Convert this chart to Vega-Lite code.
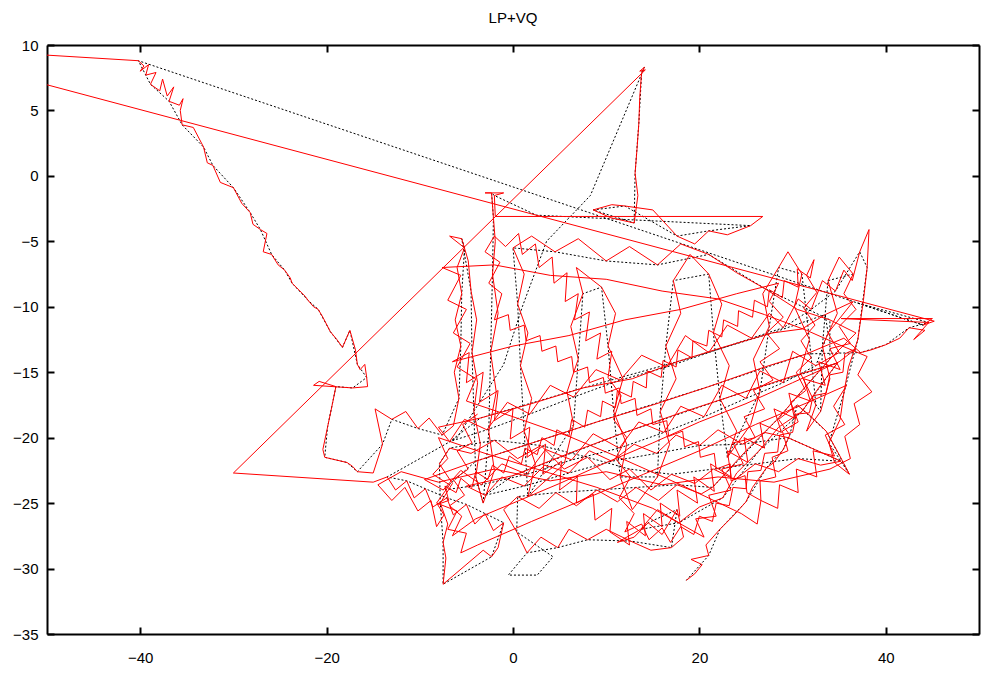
{
"$schema": "https://vega.github.io/schema/vega-lite/v6.json",
"autosize": {"type": "none"},
"width": 932, "height": 589,
"padding": {"left": 47, "top": 45, "right": 5, "bottom": 40},
"background": "white",
"title": {"text": "LP+VQ", "font": "Liberation Sans", "fontSize": 15, "fontWeight": "normal", "color": "black", "baseline": "alphabetic", "offset": 0, "anchor": "middle"},
"config": {"view": {"stroke": null}, "axis": {"grid": false, "title": null, "domainColor": "black", "domainWidth": 2, "tickColor": "black", "tickWidth": 2, "tickSize": -7, "labelFont": "Liberation Sans", "labelFontSize": 15, "labelColor": "black"}},
"data": {"values": [
{"x":18.6,"y":-30.9,"s":"b"},{"x":19.5,"y":-30.4,"s":"r"},{"x":20.3,"y":-29.7,"s":"r"},{"x":19.1,"y":-29.3,"s":"r"},{"x":21.0,"y":-29.0,"s":"b"},{"x":20.7,"y":-28.2,"s":"r"},{"x":22.2,"y":-27.0,"s":"b"},{"x":23.6,"y":-26.0,"s":"r"},{"x":25.0,"y":-24.9,"s":"b"},{"x":25.7,"y":-23.8,"s":"r"},
{"x":27.2,"y":-22.3,"s":"b"},{"x":28.0,"y":-21.9,"s":"r"},{"x":29.0,"y":-20.9,"s":"b"},{"x":29.7,"y":-19.8,"s":"b"},{"x":28.5,"y":-18.6,"s":"r"},{"x":30.5,"y":-17.5,"s":"b"},{"x":32.0,"y":-18.4,"s":"r"},{"x":33.6,"y":-19.5,"s":"b"},{"x":35.0,"y":-21.3,"s":"r"},{"x":36.1,"y":-22.8,"s":"b"},
{"x":34.5,"y":-21.9,"s":"r"},{"x":33.9,"y":-20.4,"s":"b"},{"x":35.1,"y":-18.6,"s":"r"},{"x":35.5,"y":-16.6,"s":"b"},{"x":36.0,"y":-14.6,"s":"r"},{"x":37.0,"y":-12.5,"s":"b"},{"x":37.6,"y":-9.5,"s":"r"},{"x":38.0,"y":-7.0,"s":"b"},{"x":38.2,"y":-4.1,"s":"r"},{"x":37.2,"y":-5.8,"s":"b"},
{"x":36.4,"y":-8.0,"s":"r"},{"x":35.5,"y":-7.2,"s":"r"},{"x":34.6,"y":-8.8,"s":"b"},{"x":33.2,"y":-8.0,"s":"r"},{"x":32.0,"y":-10.2,"s":"b"},{"x":30.6,"y":-9.4,"s":"r"},{"x":29.0,"y":-11.6,"s":"b"},{"x":27.5,"y":-10.5,"s":"r"},{"x":25.6,"y":-12.4,"s":"b"},{"x":23.0,"y":-11.4,"s":"r"},
{"x":21.0,"y":-13.5,"s":"b"},{"x":18.5,"y":-12.2,"s":"r"},{"x":16.5,"y":-14.6,"s":"b"},{"x":13.8,"y":-13.7,"s":"r"},{"x":11.5,"y":-15.6,"s":"b"},{"x":8.9,"y":-14.8,"s":"r"},{"x":6.5,"y":-16.9,"s":"b"},{"x":4.0,"y":-16.0,"s":"r"},{"x":1.8,"y":-18.2,"s":"b"},{"x":-0.6,"y":-17.3,"s":"r"},
{"x":-2.8,"y":-19.4,"s":"b"},{"x":-5.2,"y":-18.6,"s":"r"},{"x":-6.8,"y":-20.3,"s":"b"},{"x":-8.0,"y":-19.2,"s":"r"},{"x":-3.5,"y":-18.5,"s":"b"},{"x":2.0,"y":-17.4,"s":"r"},{"x":7.5,"y":-16.2,"s":"b"},{"x":12.8,"y":-15.5,"s":"r"},{"x":17.6,"y":-14.2,"s":"b"},{"x":22.5,"y":-13.1,"s":"r"},
{"x":27.8,"y":-12.0,"s":"b"},{"x":31.0,"y":-11.7,"s":"r"},{"x":33.5,"y":-10.6,"s":"b"},{"x":36.5,"y":-9.6,"s":"r"},{"x":33.8,"y":-12.0,"s":"b"},{"x":35.0,"y":-13.5,"s":"r"},{"x":32.5,"y":-14.5,"s":"b"},{"x":30.0,"y":-13.4,"s":"r"},{"x":29.0,"y":-15.8,"s":"b"},{"x":26.5,"y":-14.9,"s":"r"},
{"x":25.0,"y":-17.0,"s":"b"},{"x":22.4,"y":-16.0,"s":"r"},{"x":20.5,"y":-18.4,"s":"b"},{"x":18.0,"y":-17.6,"s":"r"},{"x":16.2,"y":-19.6,"s":"b"},{"x":13.5,"y":-18.8,"s":"r"},{"x":11.4,"y":-20.8,"s":"b"},{"x":8.6,"y":-19.7,"s":"r"},{"x":6.3,"y":-21.7,"s":"b"},{"x":3.5,"y":-20.9,"s":"r"},
{"x":1.5,"y":-22.8,"s":"b"},{"x":-1.2,"y":-22.0,"s":"r"},{"x":-3.4,"y":-23.6,"s":"b"},{"x":-5.6,"y":-22.5,"s":"r"},{"x":-7.5,"y":-24.0,"s":"b"},{"x":-9.5,"y":-23.2,"s":"r"},{"x":-4.0,"y":-21.8,"s":"b"},{"x":2.5,"y":-20.3,"s":"r"},{"x":9.0,"y":-18.8,"s":"b"},{"x":15.0,"y":-17.5,"s":"r"},
{"x":21.0,"y":-16.1,"s":"b"},{"x":27.0,"y":-14.6,"s":"r"},{"x":31.5,"y":-13.6,"s":"b"},{"x":35.5,"y":-12.4,"s":"r"},{"x":37.3,"y":-13.5,"s":"b"},{"x":38.4,"y":-13.3,"s":"r"},{"x":40.0,"y":-12.9,"s":"b"},{"x":41.5,"y":-12.4,"s":"r"},{"x":42.5,"y":-11.6,"s":"b"},{"x":44.2,"y":-11.8,"s":"r"},
{"x":43.0,"y":-12.5,"s":"r"},{"x":44.6,"y":-11.2,"s":"b"},{"x":36.9,"y":-9.7,"s":"k"},{"x":35.2,"y":-10.9,"s":"r"},{"x":45.0,"y":-10.9,"s":"r"},{"x":44.0,"y":-11.4,"s":"b"},{"x":45.2,"y":-11.1,"s":"r"},{"x":-65.5,"y":9.9,"s":"r"},{"x":-40.2,"y":8.8,"s":"b"},
{"x":-39.6,"y":8.4,"s":"r"},{"x":-40.0,"y":8.0,"s":"r"},{"x":-39.1,"y":8.5,"s":"r"},{"x":-39.4,"y":7.7,"s":"r"},{"x":-38.3,"y":7.9,"s":"r"},{"x":-38.9,"y":7.0,"s":"b"},{"x":-37.9,"y":6.5,"s":"r"},{"x":-37.6,"y":7.4,"s":"r"},{"x":-37.1,"y":6.1,"s":"r"},{"x":-36.4,"y":6.8,"s":"r"},
{"x":-36.9,"y":5.7,"s":"b"},{"x":-35.8,"y":5.4,"s":"r"},{"x":-35.4,"y":5.9,"s":"r"},{"x":-35.7,"y":5.0,"s":"r"},{"x":-35.5,"y":3.9,"s":"b"},{"x":-34.3,"y":3.7,"s":"r"},{"x":-33.2,"y":2.2,"s":"b"},{"x":-32.8,"y":1.0,"s":"r"},{"x":-32.2,"y":0.8,"s":"b"},{"x":-31.4,"y":-0.5,"s":"r"},
{"x":-30.0,"y":-0.9,"s":"b"},{"x":-29.1,"y":-2.1,"s":"r"},{"x":-28.2,"y":-2.8,"s":"b"},{"x":-27.9,"y":-3.7,"s":"r"},{"x":-27.1,"y":-4.1,"s":"b"},{"x":-26.4,"y":-4.4,"s":"r"},{"x":-26.8,"y":-5.8,"s":"r"},{"x":-25.9,"y":-6.0,"s":"b"},{"x":-25.2,"y":-6.8,"s":"r"},{"x":-24.5,"y":-7.2,"s":"b"},
{"x":-23.9,"y":-7.8,"s":"r"},{"x":-23.7,"y":-8.2,"s":"b"},{"x":-22.3,"y":-9.2,"s":"r"},{"x":-22.0,"y":-9.5,"s":"b"},{"x":-21.4,"y":-10.0,"s":"r"},{"x":-20.9,"y":-10.2,"s":"b"},{"x":-20.4,"y":-10.8,"s":"r"},{"x":-19.6,"y":-11.9,"s":"b"},{"x":-18.9,"y":-12.5,"s":"r"},{"x":-18.3,"y":-13.1,"s":"b"},
{"x":-17.5,"y":-11.8,"s":"b"},{"x":-16.9,"y":-13.3,"s":"r"},{"x":-16.7,"y":-14.4,"s":"b"},{"x":-16.4,"y":-14.8,"s":"r"},{"x":-15.9,"y":-14.4,"s":"r"},{"x":-15.7,"y":-15.4,"s":"b"},{"x":-15.6,"y":-16.1,"s":"r"},{"x":-17.2,"y":-16.2,"s":"b"},{"x":-21.4,"y":-16.0,"s":"r"},{"x":-20.8,"y":-15.7,"s":"r"},
{"x":-19.0,"y":-16.1,"s":"b"},{"x":-19.4,"y":-17.5,"s":"r"},{"x":-19.9,"y":-19.2,"s":"b"},{"x":-20.4,"y":-20.9,"s":"r"},{"x":-20.2,"y":-21.5,"s":"b"},{"x":-17.8,"y":-21.9,"s":"b"},{"x":-17.2,"y":-22.2,"s":"r"},{"x":-16.7,"y":-22.6,"s":"b"},{"x":-15.0,"y":-22.7,"s":"r"},{"x":-14.0,"y":-20.5,"s":"b"},
{"x":-14.8,"y":-17.8,"s":"r"},{"x":-13.0,"y":-18.6,"s":"b"},{"x":-11.5,"y":-18.0,"s":"r"},{"x":-10.2,"y":-19.3,"s":"b"},{"x":-9.0,"y":-18.5,"s":"r"},{"x":-7.6,"y":-19.8,"s":"b"},{"x":-6.4,"y":-19.1,"s":"r"},{"x":-5.8,"y":-17.0,"s":"b"},{"x":-6.3,"y":-15.0,"s":"r"},{"x":-5.6,"y":-13.0,"s":"b"},
{"x":-6.2,"y":-11.0,"s":"r"},{"x":-5.5,"y":-9.0,"s":"b"},{"x":-6.0,"y":-7.0,"s":"r"},{"x":-5.2,"y":-5.5,"s":"b"},{"x":-6.8,"y":-4.6,"s":"r"},{"x":-5.5,"y":-4.8,"s":"b"},{"x":-4.8,"y":-6.5,"s":"r"},{"x":-4.5,"y":-8.8,"s":"b"},{"x":-3.9,"y":-11.0,"s":"r"},{"x":-4.4,"y":-13.5,"s":"b"},
{"x":-3.8,"y":-15.8,"s":"r"},{"x":-4.2,"y":-18.0,"s":"b"},{"x":-3.5,"y":-20.5,"s":"r"},{"x":-4.0,"y":-23.0,"s":"b"},{"x":-3.2,"y":-25.0,"s":"b"},{"x":-2.0,"y":-22.5,"s":"r"},{"x":-2.6,"y":-19.5,"s":"b"},{"x":-1.8,"y":-16.5,"s":"r"},{"x":-2.4,"y":-13.5,"s":"b"},{"x":-1.6,"y":-10.5,"s":"r"},
{"x":-2.2,"y":-7.5,"s":"b"},{"x":-1.9,"y":-5.0,"s":"r"},{"x":-2.1,"y":-3.2,"s":"b"},{"x":-2.3,"y":-1.3,"s":"b"},{"x":-3.0,"y":-1.3,"s":"r"},{"x":-1.0,"y":-1.3,"s":"r"},{"x":-2.0,"y":-1.5,"s":"b"},{"x":2.5,"y":-3.0,"s":"k"},{"x":-1.9,"y":-3.1,"s":"r"},{"x":26.8,"y":-3.1,"s":"r"},
{"x":25.5,"y":-3.8,"s":"b"},{"x":23.0,"y":-4.5,"s":"r"},{"x":21.0,"y":-4.2,"s":"b"},{"x":19.5,"y":-5.2,"s":"r"},{"x":17.6,"y":-4.6,"s":"b"},{"x":15.0,"y":-2.6,"s":"r"},{"x":12.0,"y":-2.3,"s":"b"},{"x":10.6,"y":-2.2,"s":"r"},{"x":8.6,"y":-2.6,"s":"b"},{"x":10.5,"y":-3.2,"s":"r"},
{"x":13.0,"y":-3.6,"s":"b"},{"x":13.4,"y":-1.5,"s":"r"},{"x":13.1,"y":0.2,"s":"b"},{"x":13.3,"y":2.0,"s":"r"},{"x":13.5,"y":4.0,"s":"b"},{"x":13.6,"y":6.0,"s":"r"},{"x":13.8,"y":7.9,"s":"b"},{"x":14.1,"y":8.3,"s":"b"},{"x":13.6,"y":8.0,"s":"r"},{"x":14.2,"y":8.1,"s":"r"},
{"x":8.3,"y":-1.5,"s":"k"},{"x":3.6,"y":-5.0,"s":"k"},{"x":1.0,"y":-10.0,"s":"k"},{"x":-1.0,"y":-14.4,"s":"k"},{"x":-6.0,"y":-20.0,"s":"k"},{"x":-30.0,"y":-22.7,"s":"r"},{"x":-15.0,"y":-23.4,"s":"r"},
{"x":-13.5,"y":-23.0,"s":"b"},{"x":-12.6,"y":-24.0,"s":"r"},{"x":-11.4,"y":-23.3,"s":"b"},{"x":-10.6,"y":-24.6,"s":"r"},{"x":-9.4,"y":-23.9,"s":"b"},{"x":-8.6,"y":-25.3,"s":"r"},{"x":-7.1,"y":-24.6,"s":"b"},{"x":-6.4,"y":-25.9,"s":"r"},{"x":-5.0,"y":-25.1,"s":"b"},{"x":-4.1,"y":-26.6,"s":"r"},
{"x":-3.0,"y":-25.8,"s":"b"},{"x":-2.1,"y":-27.1,"s":"r"},{"x":-1.0,"y":-26.5,"s":"b"},{"x":-1.6,"y":-28.4,"s":"r"},{"x":-2.3,"y":-29.1,"s":"b"},{"x":-3.2,"y":-28.6,"s":"r"},{"x":-7.5,"y":-31.2,"s":"b"},{"x":-7.2,"y":-29.2,"s":"r"},{"x":-7.5,"y":-28.0,"s":"b"},{"x":-7.0,"y":-26.6,"s":"r"},
{"x":-7.8,"y":-25.0,"s":"b"},{"x":-6.5,"y":-23.5,"s":"r"},{"x":-7.9,"y":-22.0,"s":"b"},{"x":-6.8,"y":-20.8,"s":"b"},
{"x":-4.5,"y":-21.2,"s":"r"},{"x":-2.0,"y":-20.2,"s":"b"},{"x":0.5,"y":-21.6,"s":"r"},{"x":3.0,"y":-20.6,"s":"b"},{"x":5.5,"y":-22.4,"s":"r"},{"x":8.0,"y":-21.5,"s":"b"},{"x":10.4,"y":-23.2,"s":"r"},{"x":12.5,"y":-22.4,"s":"b"},{"x":14.8,"y":-24.0,"s":"r"},{"x":17.0,"y":-22.8,"s":"b"},
{"x":19.5,"y":-23.5,"s":"r"},{"x":21.5,"y":-22.4,"s":"b"},{"x":23.8,"y":-23.2,"s":"r"},{"x":26.0,"y":-22.0,"s":"b"},{"x":28.5,"y":-22.6,"s":"r"},{"x":30.6,"y":-21.6,"s":"b"},{"x":33.0,"y":-22.1,"s":"r"},{"x":35.2,"y":-21.8,"s":"b"},
{"x":29.5,"y":-20.0,"s":"b"},{"x":27.0,"y":-19.6,"s":"r"},{"x":24.6,"y":-20.5,"s":"b"},{"x":22.0,"y":-19.4,"s":"r"},{"x":20.0,"y":-20.6,"s":"b"},{"x":17.5,"y":-19.8,"s":"r"},{"x":15.4,"y":-21.2,"s":"b"},{"x":13.0,"y":-20.5,"s":"r"},{"x":10.6,"y":-21.8,"s":"b"},{"x":8.2,"y":-21.0,"s":"r"},
{"x":6.0,"y":-22.7,"s":"b"},{"x":3.4,"y":-22.1,"s":"r"},{"x":1.2,"y":-23.7,"s":"b"},{"x":-1.2,"y":-23.0,"s":"r"},{"x":-3.0,"y":-24.4,"s":"b"},{"x":-5.0,"y":-23.7,"s":"r"},
{"x":0.0,"y":-22.9,"s":"b"},{"x":6.0,"y":-21.2,"s":"r"},{"x":12.0,"y":-19.6,"s":"b"},{"x":18.0,"y":-18.1,"s":"r"},{"x":24.0,"y":-16.7,"s":"b"},{"x":30.0,"y":-15.3,"s":"r"},{"x":34.8,"y":-14.3,"s":"b"},
{"x":33.0,"y":-16.0,"s":"r"},{"x":31.0,"y":-18.0,"s":"b"},{"x":28.5,"y":-19.2,"s":"r"},{"x":26.4,"y":-21.0,"s":"b"},{"x":24.0,"y":-22.7,"s":"r"},{"x":22.5,"y":-24.6,"s":"b"},{"x":20.0,"y":-25.3,"s":"r"},{"x":17.8,"y":-26.5,"s":"b"},{"x":15.5,"y":-25.5,"s":"r"},{"x":13.7,"y":-27.0,"s":"b"},
{"x":11.2,"y":-28.0,"s":"r"},{"x":13.0,"y":-27.6,"s":"r"},{"x":14.5,"y":-26.5,"s":"b"},{"x":16.0,"y":-27.4,"s":"r"},{"x":17.6,"y":-25.5,"s":"b"},{"x":18.3,"y":-27.6,"s":"r"},{"x":17.0,"y":-28.4,"s":"b"},{"x":14.8,"y":-28.6,"s":"r"},{"x":12.6,"y":-27.9,"s":"b"},{"x":10.0,"y":-27.0,"s":"r"},
{"x":8.0,"y":-27.8,"s":"b"},{"x":6.0,"y":-27.0,"s":"r"},{"x":4.8,"y":-28.4,"s":"b"},{"x":3.0,"y":-27.6,"s":"r"},{"x":1.5,"y":-28.8,"s":"b"},{"x":-0.5,"y":-30.5,"s":"k"},{"x":2.6,"y":-30.5,"s":"k"},{"x":4.3,"y":-29.1,"s":"k"},{"x":0.4,"y":-27.2,"s":"b"},{"x":-1.0,"y":-25.5,"s":"r"},
{"x":0.5,"y":-24.5,"s":"b"},{"x":2.8,"y":-25.4,"s":"r"},{"x":4.6,"y":-24.2,"s":"b"},{"x":6.8,"y":-25.2,"s":"r"},{"x":9.0,"y":-24.0,"s":"b"},{"x":11.2,"y":-24.9,"s":"r"},{"x":13.2,"y":-23.8,"s":"b"},{"x":15.6,"y":-24.8,"s":"r"},{"x":17.6,"y":-23.6,"s":"b"},{"x":20.2,"y":-24.3,"s":"r"},
{"x":21.4,"y":-23.8,"s":"b"},{"x":25.0,"y":-21.0,"s":"r"},{"x":28.5,"y":-18.5,"s":"b"},{"x":31.5,"y":-16.0,"s":"r"},{"x":34.0,"y":-14.0,"s":"b"},{"x":36.8,"y":-12.0,"s":"r"},{"x":34.0,"y":-11.0,"s":"b"},{"x":30.5,"y":-10.2,"s":"r"},{"x":27.0,"y":-8.6,"s":"b"},{"x":24.0,"y":-7.4,"s":"r"},
{"x":21.0,"y":-6.0,"s":"b"},{"x":18.0,"y":-5.2,"s":"r"},{"x":15.5,"y":-6.8,"s":"b"},{"x":12.5,"y":-5.4,"s":"r"},{"x":10.0,"y":-6.5,"s":"b"},{"x":7.0,"y":-4.8,"s":"r"},{"x":4.5,"y":-5.8,"s":"b"},{"x":2.0,"y":-4.6,"s":"r"},{"x":0.0,"y":-5.5,"s":"b"},
{"x":1.2,"y":-7.5,"s":"r"},{"x":0.5,"y":-9.8,"s":"b"},{"x":1.6,"y":-12.0,"s":"r"},{"x":0.8,"y":-14.5,"s":"b"},{"x":2.0,"y":-17.0,"s":"r"},{"x":1.2,"y":-19.5,"s":"b"},{"x":2.4,"y":-22.0,"s":"r"},{"x":1.6,"y":-24.5,"s":"b"},
{"x":5.5,"y":-22.0,"s":"r"},{"x":6.5,"y":-19.0,"s":"b"},{"x":5.8,"y":-16.5,"s":"r"},{"x":7.0,"y":-14.0,"s":"b"},{"x":6.2,"y":-11.5,"s":"r"},{"x":7.5,"y":-9.0,"s":"b"},{"x":6.8,"y":-7.0,"s":"r"},
{"x":9.5,"y":-8.5,"s":"b"},{"x":11.0,"y":-10.5,"s":"r"},{"x":10.2,"y":-13.0,"s":"b"},{"x":11.8,"y":-15.5,"s":"r"},{"x":10.8,"y":-18.0,"s":"b"},{"x":12.2,"y":-20.5,"s":"r"},{"x":11.5,"y":-23.0,"s":"b"},{"x":12.8,"y":-25.5,"s":"r"},
{"x":15.5,"y":-23.0,"s":"b"},{"x":16.8,"y":-20.5,"s":"r"},{"x":15.8,"y":-18.0,"s":"b"},{"x":17.5,"y":-15.5,"s":"r"},{"x":16.4,"y":-13.0,"s":"b"},{"x":18.0,"y":-10.5,"s":"r"},{"x":17.2,"y":-8.0,"s":"b"},{"x":19.0,"y":-6.0,"s":"r"},
{"x":21.0,"y":-7.5,"s":"b"},{"x":22.4,"y":-9.8,"s":"r"},{"x":21.5,"y":-12.0,"s":"b"},{"x":23.2,"y":-14.5,"s":"r"},{"x":22.2,"y":-17.0,"s":"b"},{"x":24.0,"y":-19.5,"s":"r"},{"x":23.0,"y":-21.5,"s":"b"},
{"x":25.5,"y":-19.0,"s":"r"},{"x":26.5,"y":-16.5,"s":"b"},{"x":25.8,"y":-14.0,"s":"r"},{"x":27.5,"y":-11.5,"s":"b"},{"x":26.8,"y":-9.0,"s":"r"},{"x":28.5,"y":-7.0,"s":"b"},{"x":29.5,"y":-5.8,"s":"r"},
{"x":31.0,"y":-7.5,"s":"b"},{"x":30.2,"y":-10.0,"s":"r"},{"x":31.8,"y":-12.5,"s":"b"},{"x":30.8,"y":-15.0,"s":"r"},{"x":32.5,"y":-17.5,"s":"b"},{"x":31.5,"y":-19.5,"s":"r"},
{"x":33.0,"y":-18.0,"s":"b"},{"x":34.0,"y":-15.5,"s":"r"},{"x":33.2,"y":-13.0,"s":"b"},{"x":34.8,"y":-10.5,"s":"r"},{"x":33.8,"y":-8.0,"s":"b"},{"x":35.0,"y":-6.2,"s":"r"},{"x":36.5,"y":-7.5,"s":"b"},
{"x":35.5,"y":-9.0,"s":"r"},{"x":36.8,"y":-10.2,"s":"r"},{"x":35.0,"y":-11.5,"s":"r"},{"x":36.2,"y":-12.8,"s":"r"},{"x":34.0,"y":-13.2,"s":"r"},{"x":35.1,"y":-14.8,"s":"r"},{"x":32.8,"y":-14.2,"s":"r"},{"x":33.5,"y":-16.0,"s":"r"},{"x":31.2,"y":-15.5,"s":"r"},{"x":31.9,"y":-17.2,"s":"r"},
{"x":29.6,"y":-16.6,"s":"r"},{"x":30.2,"y":-18.5,"s":"r"},{"x":28.0,"y":-17.8,"s":"r"},{"x":28.8,"y":-19.6,"s":"r"},{"x":26.5,"y":-18.9,"s":"r"},{"x":27.0,"y":-20.8,"s":"r"},{"x":24.8,"y":-20.0,"s":"r"},{"x":25.2,"y":-21.9,"s":"r"},{"x":23.0,"y":-21.0,"s":"r"},{"x":23.4,"y":-23.0,"s":"r"},
{"x":21.2,"y":-22.0,"s":"r"},{"x":21.6,"y":-24.1,"s":"r"},{"x":19.4,"y":-23.0,"s":"r"},{"x":19.8,"y":-25.0,"s":"r"},{"x":17.6,"y":-24.0,"s":"r"},{"x":17.9,"y":-26.0,"s":"r"},{"x":15.8,"y":-25.0,"s":"r"},{"x":16.0,"y":-26.8,"s":"r"},{"x":14.0,"y":-25.8,"s":"r"},{"x":14.2,"y":-27.5,"s":"r"},
{"x":12.2,"y":-26.4,"s":"r"},{"x":12.5,"y":-28.2,"s":"r"},{"x":10.4,"y":-27.2,"s":"r"},{"x":10.6,"y":-25.4,"s":"r"},{"x":8.8,"y":-26.3,"s":"r"},{"x":8.6,"y":-24.3,"s":"r"},{"x":6.8,"y":-25.0,"s":"r"},{"x":6.9,"y":-23.0,"s":"r"},{"x":5.0,"y":-24.0,"s":"r"},{"x":5.2,"y":-21.8,"s":"r"},
{"x":3.2,"y":-22.8,"s":"r"},{"x":3.5,"y":-20.5,"s":"r"},{"x":1.5,"y":-21.5,"s":"r"},{"x":1.8,"y":-19.2,"s":"r"},{"x":-0.3,"y":-20.1,"s":"r"},{"x":0.0,"y":-17.8,"s":"r"},{"x":-2.0,"y":-18.7,"s":"r"},{"x":-1.6,"y":-16.4,"s":"r"},{"x":-3.6,"y":-17.3,"s":"r"},{"x":-3.2,"y":-15.0,"s":"r"},
{"x":-5.0,"y":-15.8,"s":"r"},{"x":-4.7,"y":-13.5,"s":"r"},{"x":-6.5,"y":-14.2,"s":"r"},{"x":0.0,"y":-13.0,"s":"r"},{"x":6.0,"y":-12.2,"s":"r"},{"x":12.0,"y":-11.0,"s":"r"},{"x":18.0,"y":-10.2,"s":"r"},{"x":24.0,"y":-9.0,"s":"r"},{"x":28.5,"y":-8.2,"s":"r"},
{"x":27.5,"y":-9.6,"s":"r"},{"x":29.0,"y":-10.8,"s":"r"},{"x":27.2,"y":-12.0,"s":"r"},{"x":28.6,"y":-13.2,"s":"r"},{"x":26.5,"y":-14.2,"s":"r"},{"x":27.9,"y":-15.6,"s":"r"},{"x":25.8,"y":-16.4,"s":"r"},{"x":27.0,"y":-17.8,"s":"r"},{"x":24.8,"y":-18.4,"s":"r"},{"x":26.0,"y":-20.0,"s":"r"},
{"x":23.6,"y":-20.4,"s":"r"},{"x":24.7,"y":-22.0,"s":"r"},{"x":22.4,"y":-22.4,"s":"r"},{"x":23.4,"y":-24.0,"s":"r"},{"x":21.0,"y":-24.4,"s":"r"},{"x":21.8,"y":-26.0,"s":"r"},{"x":19.6,"y":-26.2,"s":"r"},{"x":20.5,"y":-27.6,"s":"r"},
{"x":15.0,"y":-25.4,"s":"r"},{"x":9.0,"y":-23.8,"s":"r"},{"x":3.0,"y":-22.5,"s":"r"},{"x":-3.0,"y":-21.2,"s":"r"},{"x":-8.0,"y":-20.0,"s":"r"},
{"x":-7.0,"y":-21.6,"s":"r"},{"x":-8.6,"y":-22.8,"s":"r"},{"x":-6.8,"y":-23.6,"s":"r"},{"x":-8.2,"y":-25.0,"s":"r"},{"x":-6.0,"y":-25.6,"s":"r"},{"x":-7.0,"y":-27.0,"s":"r"},{"x":-5.0,"y":-27.3,"s":"r"},{"x":-5.6,"y":-28.8,"s":"r"},{"x":-3.8,"y":-28.2,"s":"r"},
{"x":2.0,"y":-26.4,"s":"r"},{"x":8.0,"y":-24.6,"s":"r"},{"x":14.0,"y":-22.8,"s":"r"},{"x":20.0,"y":-21.0,"s":"r"},{"x":26.0,"y":-19.0,"s":"r"},{"x":32.0,"y":-17.2,"s":"r"},{"x":35.8,"y":-16.0,"s":"r"},
{"x":34.4,"y":-17.6,"s":"r"},{"x":35.6,"y":-19.0,"s":"r"},{"x":33.5,"y":-19.8,"s":"r"},{"x":34.5,"y":-21.4,"s":"r"},{"x":32.2,"y":-21.0,"s":"r"},{"x":32.6,"y":-23.0,"s":"r"},{"x":30.4,"y":-22.4,"s":"r"},{"x":30.6,"y":-24.2,"s":"r"},{"x":28.6,"y":-23.6,"s":"r"},{"x":28.4,"y":-25.4,"s":"r"},
{"x":26.6,"y":-24.8,"s":"r"},{"x":26.2,"y":-26.6,"s":"r"},{"x":24.5,"y":-25.8,"s":"r"},
{"x":18.0,"y":-23.6,"s":"r"},{"x":12.0,"y":-21.7,"s":"r"},{"x":6.0,"y":-19.9,"s":"r"},{"x":0.0,"y":-18.4,"s":"r"},{"x":-5.0,"y":-17.2,"s":"r"},
{"x":-4.0,"y":-15.5,"s":"r"},{"x":-6.0,"y":-14.6,"s":"r"},{"x":-4.6,"y":-12.8,"s":"r"},{"x":-6.4,"y":-12.0,"s":"r"},{"x":-5.0,"y":-10.2,"s":"r"},{"x":-7.0,"y":-9.5,"s":"r"},{"x":-5.6,"y":-7.6,"s":"r"},{"x":-7.6,"y":-7.0,"s":"r"},
{"x":-2.0,"y":-6.8,"s":"r"},{"x":4.0,"y":-7.6,"s":"r"},{"x":10.0,"y":-7.9,"s":"r"},{"x":16.0,"y":-8.8,"s":"r"},{"x":22.0,"y":-9.4,"s":"r"},{"x":27.0,"y":-10.6,"s":"r"},{"x":31.5,"y":-11.8,"s":"r"},{"x":35.0,"y":-12.9,"s":"r"},{"x":38.0,"y":-13.8,"s":"r"},
{"x":37.0,"y":-15.2,"s":"r"},{"x":38.5,"y":-16.5,"s":"r"},{"x":36.6,"y":-17.4,"s":"r"},{"x":37.2,"y":-19.0,"s":"r"},{"x":35.6,"y":-19.9,"s":"r"},{"x":36.2,"y":-21.6,"s":"r"},{"x":34.0,"y":-22.4,"s":"r"},
{"x":28.0,"y":-23.4,"s":"r"},{"x":22.0,"y":-23.0,"s":"r"},{"x":16.0,"y":-23.6,"s":"r"},{"x":10.0,"y":-22.6,"s":"r"},{"x":4.0,"y":-23.3,"s":"r"},{"x":-2.0,"y":-22.4,"s":"r"},{"x":-8.0,"y":-23.4,"s":"r"},{"x":-12.0,"y":-22.6,"s":"r"},{"x":-14.5,"y":-23.6,"s":"r"},
{"x":-13.0,"y":-24.8,"s":"r"},{"x":-11.6,"y":-23.8,"s":"r"},{"x":-10.2,"y":-25.6,"s":"r"},{"x":-8.8,"y":-24.8,"s":"r"},{"x":-8.2,"y":-26.8,"s":"r"},
{"x":-7.4,"y":-25.9,"s":"r"},{"x":-8.1,"y":-25.1,"s":"r"},{"x":-6.9,"y":-24.8,"s":"r"},{"x":-7.3,"y":-23.7,"s":"r"},{"x":-6.1,"y":-24.2,"s":"r"},{"x":-5.6,"y":-23.1,"s":"r"},{"x":-4.4,"y":-23.8,"s":"r"},{"x":-4.0,"y":-22.6,"s":"r"},{"x":-2.7,"y":-23.2,"s":"r"},{"x":-2.2,"y":-22.1,"s":"r"},
{"x":-1.0,"y":-22.7,"s":"r"},{"x":-0.4,"y":-21.4,"s":"r"},{"x":0.9,"y":-22.0,"s":"r"},{"x":1.3,"y":-20.8,"s":"r"},{"x":2.6,"y":-21.3,"s":"r"},{"x":3.1,"y":-20.0,"s":"r"},{"x":4.4,"y":-20.6,"s":"r"},{"x":4.7,"y":-19.4,"s":"r"},{"x":6.0,"y":-19.9,"s":"r"},{"x":6.3,"y":-18.6,"s":"r"},
{"x":7.7,"y":-19.2,"s":"r"},{"x":8.0,"y":-17.9,"s":"r"},{"x":9.4,"y":-18.4,"s":"r"},{"x":9.6,"y":-17.2,"s":"r"},{"x":11.0,"y":-17.7,"s":"r"},{"x":11.2,"y":-16.4,"s":"r"},{"x":12.7,"y":-16.9,"s":"r"},{"x":12.9,"y":-15.7,"s":"r"},{"x":14.3,"y":-16.2,"s":"r"},{"x":14.4,"y":-14.9,"s":"r"},
{"x":15.9,"y":-15.4,"s":"r"},{"x":16.1,"y":-14.1,"s":"r"},{"x":17.5,"y":-14.6,"s":"r"},{"x":17.7,"y":-13.3,"s":"r"},{"x":19.2,"y":-13.9,"s":"r"},{"x":19.3,"y":-12.6,"s":"r"},{"x":20.8,"y":-13.0,"s":"r"},{"x":21.0,"y":-11.8,"s":"r"},{"x":22.4,"y":-12.3,"s":"r"},{"x":22.6,"y":-11.0,"s":"r"},
{"x":24.1,"y":-11.5,"s":"r"},{"x":24.2,"y":-10.3,"s":"r"},{"x":25.7,"y":-10.8,"s":"r"},{"x":25.9,"y":-9.5,"s":"r"},{"x":27.3,"y":-10.0,"s":"r"},{"x":27.5,"y":-8.7,"s":"r"},{"x":28.9,"y":-9.3,"s":"r"},{"x":29.1,"y":-8.0,"s":"r"},{"x":30.6,"y":-8.5,"s":"r"},{"x":30.5,"y":-7.1,"s":"r"},
{"x":31.9,"y":-7.8,"s":"r"},{"x":32.3,"y":-6.4,"s":"r"},{"x":31.5,"y":-7.6,"s":"r"},{"x":32.6,"y":-8.9,"s":"r"},{"x":31.2,"y":-10.1,"s":"r"},{"x":32.4,"y":-11.4,"s":"r"},{"x":30.9,"y":-12.6,"s":"r"},{"x":32.0,"y":-13.9,"s":"r"},{"x":30.4,"y":-15.0,"s":"r"},{"x":31.4,"y":-16.4,"s":"r"},
{"x":29.8,"y":-17.3,"s":"r"},{"x":30.6,"y":-18.8,"s":"r"},{"x":28.9,"y":-19.5,"s":"r"},{"x":29.5,"y":-21.0,"s":"r"},{"x":27.8,"y":-21.5,"s":"r"},{"x":28.2,"y":-23.0,"s":"r"},{"x":26.5,"y":-23.3,"s":"r"},{"x":26.6,"y":-24.8,"s":"r"},
{"x":25.1,"y":-24.2,"s":"r"},{"x":24.9,"y":-22.9,"s":"r"},{"x":23.4,"y":-23.3,"s":"r"},{"x":23.3,"y":-22.0,"s":"r"},{"x":21.8,"y":-22.4,"s":"r"},{"x":21.6,"y":-21.2,"s":"r"},{"x":20.1,"y":-21.5,"s":"r"},{"x":19.9,"y":-20.3,"s":"r"},{"x":18.4,"y":-20.7,"s":"r"},{"x":18.2,"y":-19.5,"s":"r"},
{"x":16.7,"y":-19.9,"s":"r"},{"x":16.5,"y":-18.7,"s":"r"},{"x":15.0,"y":-19.0,"s":"r"},{"x":14.8,"y":-17.8,"s":"r"},{"x":13.3,"y":-18.3,"s":"r"},{"x":13.1,"y":-17.0,"s":"r"},{"x":11.6,"y":-17.4,"s":"r"},{"x":11.4,"y":-16.2,"s":"r"},{"x":9.9,"y":-16.6,"s":"r"},{"x":9.7,"y":-15.4,"s":"r"},
{"x":8.2,"y":-15.8,"s":"r"},{"x":8.0,"y":-14.6,"s":"r"},{"x":6.5,"y":-15.0,"s":"r"},{"x":6.3,"y":-13.8,"s":"r"},{"x":4.8,"y":-14.2,"s":"r"},{"x":4.6,"y":-13.0,"s":"r"},{"x":3.1,"y":-13.4,"s":"r"},{"x":2.9,"y":-12.2,"s":"r"},{"x":1.4,"y":-12.6,"s":"r"},{"x":1.2,"y":-11.4,"s":"r"},
{"x":-0.3,"y":-11.8,"s":"r"},{"x":-0.5,"y":-10.6,"s":"r"},{"x":-2.0,"y":-11.0,"s":"r"},{"x":-1.2,"y":-9.0,"s":"r"},{"x":-2.6,"y":-8.2,"s":"r"},{"x":-1.4,"y":-6.6,"s":"r"},{"x":-3.0,"y":-5.8,"s":"r"},{"x":-2.0,"y":-4.6,"s":"r"},{"x":-0.8,"y":-5.4,"s":"r"},{"x":0.6,"y":-4.4,"s":"r"},
{"x":1.0,"y":-6.0,"s":"r"},{"x":2.4,"y":-5.2,"s":"r"},{"x":2.8,"y":-7.0,"s":"r"},{"x":4.2,"y":-6.2,"s":"r"},{"x":4.4,"y":-8.2,"s":"r"},{"x":5.8,"y":-7.4,"s":"r"},{"x":5.6,"y":-9.6,"s":"r"},{"x":7.0,"y":-9.0,"s":"r"},{"x":6.6,"y":-11.0,"s":"r"},{"x":8.2,"y":-10.4,"s":"r"},
{"x":7.8,"y":-12.6,"s":"r"},{"x":9.4,"y":-12.0,"s":"r"},{"x":9.0,"y":-14.0,"s":"r"},{"x":10.6,"y":-13.4,"s":"r"},{"x":10.2,"y":-15.4,"s":"r"},{"x":11.6,"y":-16.8,"s":"r"},{"x":10.8,"y":-18.6,"s":"r"},{"x":12.2,"y":-20.0,"s":"r"},{"x":11.0,"y":-21.6,"s":"r"},{"x":12.6,"y":-23.0,"s":"r"},
{"x":11.4,"y":-24.6,"s":"r"},{"x":13.0,"y":-25.8,"s":"r"},{"x":12.0,"y":-27.2,"s":"r"},{"x":13.8,"y":-26.6,"s":"r"},{"x":14.6,"y":-27.8,"s":"r"},{"x":16.0,"y":-26.9,"s":"r"},{"x":16.9,"y":-28.0,"s":"r"},{"x":18.0,"y":-26.8,"s":"r"},{"x":19.4,"y":-27.4,"s":"r"},{"x":20.0,"y":-26.0,"s":"r"},
{"x":21.4,"y":-26.4,"s":"r"},{"x":21.8,"y":-25.0,"s":"r"},{"x":23.2,"y":-25.2,"s":"r"},{"x":23.6,"y":-23.8,"s":"r"},{"x":25.0,"y":-23.9,"s":"r"},{"x":25.2,"y":-22.6,"s":"r"},{"x":26.6,"y":-22.5,"s":"r"},{"x":27.0,"y":-21.2,"s":"r"},{"x":28.4,"y":-21.1,"s":"r"},{"x":28.6,"y":-19.8,"s":"r"},
{"x":30.0,"y":-19.6,"s":"r"},{"x":30.4,"y":-18.2,"s":"r"},{"x":31.8,"y":-18.1,"s":"r"},{"x":32.2,"y":-16.8,"s":"r"},{"x":33.6,"y":-16.6,"s":"r"},{"x":34.0,"y":-15.2,"s":"r"},{"x":35.4,"y":-15.0,"s":"r"},{"x":35.6,"y":-13.6,"s":"r"},{"x":36.8,"y":-13.2,"s":"r"},
{"x":35.0,"y":-14.2,"s":"r"},{"x":30.0,"y":-15.8,"s":"r"},{"x":25.0,"y":-17.4,"s":"r"},{"x":20.0,"y":-18.8,"s":"r"},{"x":15.0,"y":-20.4,"s":"r"},{"x":10.0,"y":-21.9,"s":"r"},{"x":5.0,"y":-23.5,"s":"r"},{"x":0.0,"y":-25.0,"s":"r"},{"x":-4.0,"y":-26.2,"s":"r"},{"x":-6.5,"y":-27.5,"s":"r"},
{"x":-5.5,"y":-26.0,"s":"r"},{"x":-6.8,"y":-25.2,"s":"r"},{"x":-5.2,"y":-24.4,"s":"r"},{"x":-6.4,"y":-23.2,"s":"r"},{"x":-4.8,"y":-22.4,"s":"r"},{"x":-6.0,"y":-21.0,"s":"r"},{"x":-4.4,"y":-20.4,"s":"r"},{"x":-5.4,"y":-19.0,"s":"r"},{"x":-3.8,"y":-18.2,"s":"r"}
]},
"layer": [
{"transform": [{"filter": "datum.s != 'r'"}],
 "mark": {"type": "line", "color": "black", "strokeWidth": 1, "strokeDash": [2, 2], "clip": true},
 "encoding": {
  "x": {"field": "x", "type": "quantitative", "scale": {"domain": [-50, 50], "nice": false, "zero": false}, "axis": {"orient": "bottom", "values": [-40, -20, 0, 20, 40], "labelPadding": 23}},
  "y": {"field": "y", "type": "quantitative", "scale": {"domain": [-35, 10], "nice": false, "zero": false}, "axis": {"orient": "left", "values": [-35, -30, -25, -20, -15, -10, -5, 0, 5, 10], "labelPadding": 16}},
  "order": {"value": null}}},
{"transform": [{"filter": "datum.s != 'k'"}],
 "mark": {"type": "line", "color": "#ff0000", "strokeWidth": 1, "clip": true},
 "encoding": {
  "x": {"field": "x", "type": "quantitative", "scale": {"domain": [-50, 50], "nice": false, "zero": false}, "axis": {"orient": "top", "values": [-40, -20, 0, 20, 40], "labels": false}},
  "y": {"field": "y", "type": "quantitative", "scale": {"domain": [-35, 10], "nice": false, "zero": false}, "axis": {"orient": "right", "values": [-35, -30, -25, -20, -15, -10, -5, 0, 5, 10], "labels": false}},
  "order": {"value": null}}}
],
"resolve": {"axis": {"x": "independent", "y": "independent"}}
}
